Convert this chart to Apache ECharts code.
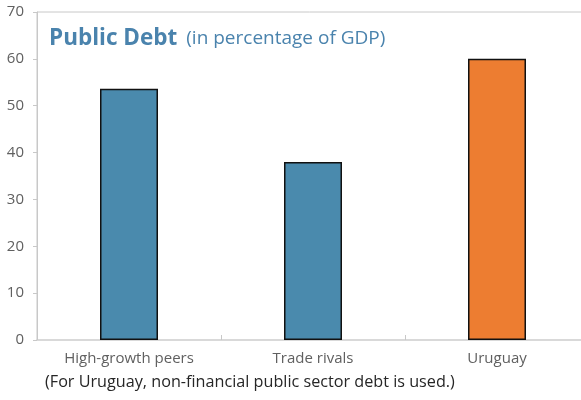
<!DOCTYPE html>
<html>
<head>
<meta charset="utf-8">
<script src="https://cdn.jsdelivr.net/npm/echarts@6/dist/echarts.min.js"></script>
<style>
  html, body { margin: 0; padding: 0; background: #fff; }
  #chart { width: 581px; height: 400px; }
</style>
</head>
<body>
<div id="chart"></div>
<script>
// Public debt, percent of GDP
const categories = ['High-growth peers', 'Trade rivals', 'Uruguay'];
const debtValues = [53.6, 38.0, 60.0];
const barColors = ['#4a8aad', '#4a8aad', '#ed7d31'];
const yTicks = { min: 0, max: 70, interval: 10 };

const chart = echarts.init(document.getElementById('chart'), null, { renderer: 'canvas' });
const font = '"Open Sans", "Noto Sans", sans-serif';

chart.setOption({
  animation: false,
  backgroundColor: '#ffffff',
  title: {
    left: 44,
    top: 22,
    text: '{b|Public Debt}{n|(in percentage of GDP)}',
    textStyle: {
      rich: {
        b: { fontFamily: font, fontSize: 22.5, fontWeight: 'bold', color: '#4a83ad' },
        n: { fontFamily: font, fontSize: 19, fontWeight: 'normal', color: '#4a83ad', padding: [0, 0, 0, 9] }
      }
    }
  },
  graphic: [{
    type: 'text',
    left: 45,
    top: 374,
    style: {
      text: '(For Uruguay, non-financial public sector debt is used.)',
      font: '16.2px ' + font,
      fill: '#262626'
    }
  }],
  // plot area runs slightly past the right edge of the canvas
  grid: {
    left: 37, width: 552, top: 12, height: 328,
    outerBoundsMode: 'none',
    show: true, borderColor: '#c8c8c8', borderWidth: 1, backgroundColor: 'transparent'
  },
  xAxis: {
    type: 'category',
    data: categories,
    boundaryGap: true,
    axisLine: { lineStyle: { color: '#d9d9d9', width: 2 } },
    axisTick: { show: true, inside: true, length: 5, lineStyle: { color: '#c8c8c8' } },
    axisLabel: { margin: 11, fontFamily: font, fontSize: 15, color: '#606060' },
    splitLine: { show: false }
  },
  yAxis: {
    type: 'value',
    min: yTicks.min, max: yTicks.max, interval: yTicks.interval,
    axisLine: { show: true, lineStyle: { color: '#c8c8c8', width: 1 } },
    axisTick: { show: true, length: 4, lineStyle: { color: '#c8c8c8' } },
    axisLabel: { margin: 13, fontFamily: font, fontSize: 15, color: '#606060' },
    splitLine: { show: false }
  },
  series: [{
    type: 'bar',
    barWidth: 58,
    data: debtValues.map((v, i) => ({
      value: v,
      itemStyle: { color: barColors[i], borderColor: '#111', borderWidth: 1.5 }
    }))
  }]
});
</script>
</body>
</html>
